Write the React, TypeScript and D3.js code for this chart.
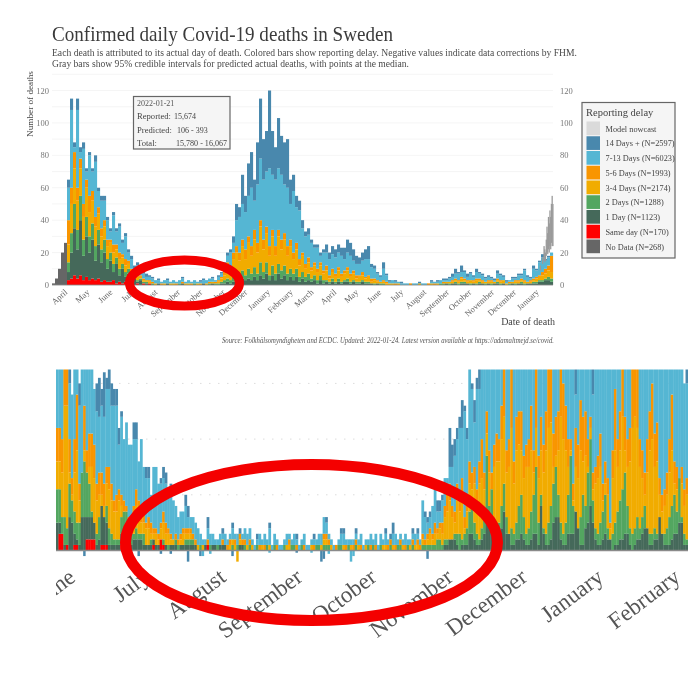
import React from "react";
import * as d3 from "d3";

// ---------- labels ----------
const legendLabels = ["Model nowcast","14 Days + (N=2597)","7-13 Days (N=6023)","5-6 Days (N=1993)","3-4 Days (N=2174)","2 Days (N=1288)","1 Day (N=1123)","Same day (N=170)","No Data (N=268)"];
const legendColors = ["#dadada","#4a88ad","#55b6d3","#f99500","#f1ac00","#52a660","#45695a","#ff0000","#666666"];
const overviewYTicks = [0,20,40,60,80,100,120];
const overviewMonths = ["2020-04-01","2020-05-01","2020-06-01","2020-07-01","2020-08-01","2020-09-01","2020-10-01","2020-11-01","2020-12-01","2021-01-01","2021-02-01","2021-03-01","2021-04-01","2021-05-01","2021-06-01","2021-07-01","2021-08-01","2021-09-01","2021-10-01","2021-11-01","2021-12-01","2022-01-01"];
const zoomMonths = ["2020-06-01","2020-07-01","2020-08-01","2020-09-01","2020-10-01","2020-11-01","2020-12-01","2021-01-01","2021-02-01"];

// ---------- overview: top edge of each stacked band, one value per 4 days ----------
const ovNoData = [1,4,10,20,26];
const ovSame = [0,0,0,0,0, 3,4,6,4,6,3,5,3,4,3,4,2,3,2,2,3,1,2,1,2,1,2,0,1,0,1,0,1];
const ovOne = [0,0,0,0,0,
 8,20,35,22,40,18,30,20,28,15,25,14,20,10,15,8,13,6,10,5,7,3,4,2,3,1,1,1,
 0,0,1,0,0,1,0,0,0,0,1,0,0,0,0,0,0,1,0,0,1,
 0,0,1,1,2,1,2,3,2,4,3,4,3,5,3,6,4,7,3,6,3,7,4,6,3,5,3,5,2,4,2,3,2,3,1,3,1,
 2,1,2,1,2,1,2,2,1,2,1,1,2,1,1,1,0,1,0,0,0,0,
 0,0,0,0,0,0,0,0,0,0,0,0,0,0,0,0,0,
 0,1,0,1,1,0,1,1,1,0,1,0,1,1,0,1,0,1,1,0,1,0,0,1,0,1,1,0,1,1,1,1,2,2,3,3,2];
const ovTwo = [0,0,0,0,0,
 14,32,50,34,55,28,42,30,38,24,34,22,28,16,20,13,17,10,13,8,10,5,6,3,4,2,2,1,
 1,0,1,0,0,1,0,0,0,1,1,0,0,0,1,0,0,1,0,1,1,
 1,1,2,3,4,3,6,7,5,9,6,10,7,11,7,14,8,14,6,12,7,13,9,12,7,10,7,10,5,8,5,7,4,6,3,6,3,
 3,2,4,2,4,2,3,4,2,3,2,2,3,2,2,1,1,1,1,1,0,0,
 0,0,0,0,0,0,0,0,0,0,0,0,0,0,0,0,1,
 1,1,1,1,2,1,2,2,1,1,1,1,2,1,1,1,1,1,2,1,1,0,1,1,1,1,2,1,1,1,2,2,3,3,4,5,4];
const ovThreeFour = [0,0,0,0,0,
 25,50,72,52,72,42,60,45,52,36,44,30,36,24,26,20,22,16,17,12,13,8,8,5,5,3,3,2,
 1,1,1,0,1,1,1,1,0,1,1,1,1,0,1,1,0,1,1,1,2,
 1,2,4,6,10,8,16,20,15,24,16,26,18,28,20,36,22,32,18,30,18,30,22,28,18,24,16,22,12,18,10,14,9,12,8,12,7,
 9,4,8,5,9,5,7,9,5,7,4,5,6,4,5,2,3,2,2,2,1,1,
 1,0,1,0,0,0,0,0,0,1,0,0,0,1,0,1,1,
 1,2,2,2,3,2,4,3,2,3,2,3,3,2,2,2,2,2,3,2,3,1,1,2,2,2,3,2,2,2,3,4,5,6,7,9,8];
const ovFiveSix = [0,0,0,0,0,
 40,60,82,60,78,50,65,55,58,42,48,35,40,28,28,25,25,20,19,16,15,10,9,6,6,4,3,3,
 2,1,1,1,1,1,1,1,1,1,2,1,1,1,1,1,1,1,1,2,2,
 2,3,5,9,14,11,20,24,20,28,22,30,24,34,26,40,28,36,24,34,24,34,28,32,24,28,20,26,16,20,13,17,11,14,10,14,9,
 12,6,10,7,11,7,9,11,7,9,6,6,8,5,6,4,4,3,2,3,2,1,
 1,1,1,0,0,0,1,0,0,1,0,0,1,1,1,1,1,
 2,2,2,3,4,3,5,4,3,3,3,4,4,3,2,3,3,2,4,3,3,1,2,2,3,3,4,3,2,3,4,5,6,8,10,12,18];
const ovSevenThirteen = [0,0,0,0,0,
 60,108,85,108,82,84,70,80,70,76,58,52,52,40,33,43,33,36,26,30,20,16,10,12,8,7,5,5,
 4,3,3,2,3,3,2,3,2,3,4,2,3,2,3,2,2,3,3,4,4,
 3,5,7,13,18,20,26,40,42,50,45,55,60,52,62,78,65,70,72,68,65,72,68,62,60,50,58,48,46,35,30,31,26,23,23,18,20,
 20,16,19,17,20,18,16,20,18,15,13,13,15,16,16,11,10,7,5,10,6,2,
 3,2,2,1,1,1,1,1,1,1,1,1,1,2,2,2,3,
 3,3,4,5,7,7,8,8,5,7,5,8,7,6,4,5,4,3,7,6,5,2,3,4,4,6,6,9,5,4,10,9,14,17,15,17,20];
const ovTotal = [0,0,0,0,0,
 65,115,88,115,85,88,72,82,72,80,60,55,55,42,35,45,35,38,28,32,22,18,12,14,10,8,7,6,
 5,3,4,2,3,4,2,3,2,3,5,2,3,2,3,2,3,4,3,4,5,
 3,6,8,14,20,22,30,50,48,68,55,75,82,65,88,115,90,95,120,95,85,103,92,88,90,65,68,55,52,40,33,35,28,25,25,20,22,
 25,20,24,22,25,23,23,28,26,22,18,17,20,22,24,13,12,8,6,14,7,3,
 3,3,2,2,1,1,1,1,1,2,1,1,1,3,2,3,3,
 4,4,5,7,10,8,12,9,7,8,6,10,8,7,5,6,5,4,9,7,6,3,3,5,5,7,7,10,6,5,12,10,15,19,16,18,20];

// nowcast intervals, last days of the series
const nowcastDates = ["2022-01-04","2022-01-07","2022-01-09","2022-01-10","2022-01-11","2022-01-12","2022-01-13","2022-01-14","2022-01-15","2022-01-16","2022-01-17","2022-01-18","2022-01-19","2022-01-20","2022-01-21"];
const nowcastLow = [9,13,15,14,15,18,20,19,22,20,24,22,26,24,24];
const nowcastHigh = [12,17,24,22,20,28,36,32,42,38,46,42,50,55,50];

// ---------- zoom panel: top edge of each stacked band, one value per day ----------
const zmSame = [0,3,3,0,1,0,0,1,1,0, 0,0,2,2,2,2,0,0,1,1, 1,0,0,0,0,0,1,1,0,0, 0,0,0,0,0,0,0,0,0,1, 0,0,2,1,0,0,0,0,0,0, 0,0,0,0,0,0,0,0,0,0, 0,1];
const zmOne = [5,5,2,1,1,6,5,3,2,1, 6,6,6,6,6,5,1,2,8,6, 5,1,1,1,1,1,3,4,3,2, 1,2,2,2,2,1,1,1,1,2, 1,1,0,1,1,0,1,1,1,0, 1,1,1,1,1,1,1,0,0,0,
 1,0,0,1,1,0,1,1,1,0, 0,0,0,0,1,1,0,0,0,0, 0,0,0,0,0,0,0,0,0,0, 0,0,0,0,0,0,0,0,0,0, 0,0,0,0,0,0,0,0,0,0, 0,0,0,0,0,0,0,0,0,0,
 0,0,0,0,0,0,0,0,0,0, 0,0,0,0,0,0,0,0,0,0, 0,0,0,0,0,0,0,0,0,0, 0,0,0,0,0,0,
 0,1,1,2,2,2,1,0,1,1, 1,3,3,2,1,1,2,3,5,5, 4,2,1,2,4,7,3,3,1,1, 2,2,3,2,1,1,2,3,3,1, 8,3,1,1,2,5,6,6,2,1, 1,3,3,3,7,4,1,1,4,5, 8,5,2,1,1,2,3,2,2,0, 1,1,2,2,3,3,1,0,1,2, 2,3,4,4,1,1,2,2,6,3, 1,1,1,2,3,3,5,5,1,1];
const zmTwo = [11,11,6,6,4,12,9,7,5,5, 14,16,14,12,7,5,3,6,8,5, 8,4,3,2,2,2,6,7,7,4, 3,3,4,3,3,3,1,1,2,2, 1,1,2,2,1,1,1,1,2,1, 1,1,2,2,2,2,1,0,1,0,
 1,1,1,0,0,1,1,0,0,0, 0,1,0,1,0,1,1,0,1, 0,0,1,0,0,0,1,0,0,1, 0,0,0,1,0,0,1,1,0,0, 1,0,0,0,0,0,1,1,0,1, 1,1,0,0,0,1,1,0,0,1, 0,0,1,0,0,0,0,1,0,1, 0,0,1,0,0,0,1,0,0,1, 1,0,0,1,0,1,0,0,0,1, 1,1,1,1,1,2,2,
 1,2,2,2,2,3,3,3,2,3, 4,7,8,5,3,2,4,6,17,8, 11,5,3,5,8,12,6,3,4,3, 5,8,10,6,3,4,7,10,15,5, 10,4,3,5,8,12,15,10,5,3, 5,10,17,8,3,3,6,10,8,14, 20,9,4,3,5,7,10,4,2,3, 5,7,9,11,14,8,4,3,4,6, 4,6,8,4,3,3,4,3,5,3, 3,4,6,8,10,7,13,6,3,2];
const zmThreeFour = [16,16,14,26,26,14,10,14,18,9, 7,18,14,15,15,13,9,10,10,8, 12,11,9,7,7,9,8,7,6,5, 4,6,8,7,5,5,4,4,3,3, 3,2,4,5,3,3,2,2,2,1, 2,3,3,3,3,2,1,1,1,1,
 1,1,1,1,0,1,1,1,1,0, 1,2,1,1,2,1,1,1,1, 1,0,1,0,1,0,1,1,0,1, 0,0,0,1,1,1,1,1,0,0, 1,0,0,0,1,0,1,1,1,2, 2,1,1,0,0,1,1,1,0,1, 1,0,1,1,0,0,1,1,0,1, 0,0,1,1,1,0,1,1,0,1, 1,1,0,1,1,1,1,1,0,2, 1,2,3,2,3,3,4,
 3,6,7,9,6,5,9,7,10,4, 7,12,11,12,8,12,13,11,21,14, 11,15,16,16,20,24,14,15,22,12, 18,19,18,13,15,15,18,14,22,13, 18,14,18,22,23,15,17,18,24,20, 18,15,18,9,15,13,18,16,17,15, 22,11,12,13,15,9,12,10,4,13, 18,15,18,24,18,15,16,22,24,22, 15,13,10,14,18,20,15,16,10,7, 8,10,14,18,12,11,13,12,8,10];
const zmFiveSix = [22,22,20,33,33,20,13,20,28,12, 9,26,18,21,21,19,12,14,14,12, 15,15,12,9,10,11,10,9,8,6, 5,8,11,9,6,7,5,6,5,4, 4,3,5,7,5,4,3,2,3,2, 3,4,4,4,4,3,2,1,1,1,
 1,2,1,1,1,1,1,2,1,1, 2,2,2,1,3,2,2,1,2, 1,0,1,1,1,1,1,1,0,1, 1,0,0,1,1,2,1,1,1,0, 1,1,0,0,1,1,1,1,1,3, 3,2,1,0,1,1,1,1,1,1, 1,1,2,1,1,0,1,1,1,1, 1,0,1,1,1,1,2,1,1,1, 2,1,1,1,1,2,1,2,1,3, 2,3,4,3,5,4,5,
 5,8,10,12,8,7,12,10,13,6, 9,16,14,15,11,16,20,14,25,18, 14,19,21,20,26,34,18,20,34,16, 24,25,25,17,19,20,26,18,34,17, 24,19,25,34,34,21,24,25,34,30, 26,20,20,12,22,19,27,24,25,20, 24,14,15,17,21,12,16,13,5,18, 29,20,25,34,24,20,22,34,34,34, 20,18,14,20,25,30,21,23,13,10, 11,14,20,28,16,15,13,15,11,13];
const zmSevenThirteen = [40,40,40,40,40,30,28,40,40,26, 40,40,40,40,40,29,25,24,26,24, 29,29,26,26,26,19,24,20,23,19, 19,20,20,16,20,15,13,13,10,15, 15,12,12,13,12,11,10,9,8,6, 7,7,8,6,6,6,5,4,3,2,
 2,4,3,3,2,2,3,3,3,2, 3,4,3,3,3,3,4,3,4, 2,1,2,3,2,3,2,4,1,3, 2,1,1,2,3,3,2,3,2,1, 2,3,1,1,2,2,2,3,3,6, 5,3,2,1,1,2,3,3,2,2, 2,2,3,2,3,1,2,2,3,2, 3,1,3,2,3,2,2,3,3,2, 3,2,3,2,2,3,3,3,2,9, 6,5,6,8,11,7,7,
 9,13,13,15,15,17,20,22,22,25, 20,36,29,23,29,29,33,34,40,40,
 40,40,40,40,40,40,40,40,40,40, 40,40,40,40,40,40,40,40,40,40, 40,40,40,40,40,40,40,40,40,40, 40,40,40,40,28,40,40,40,40,40, 40,28,40,40,40,40,40,40,40,40, 40,40,40,40,40,40,40,40,40,40, 40,40,40,40,40,40,40,40,40,40, 40,40,40,40,40,40,40,40,30,30];
const zmTotal = [40,40,40,40,40,40,28,40,40,30, 40,40,40,40,40,29,30,31,29,32, 31,33,30,29,29,22,25,20,23,19, 19,23,23,16,20,15,15,15,10,15, 15,12,13,15,14,11,12,9,8,6, 7,7,10,8,6,6,5,4,3,2,
 2,6,3,3,2,2,3,4,3,2, 3,5,3,3,4,3,4,3,4, 2,1,3,3,2,3,2,5,1,3, 2,1,1,2,3,3,2,3,3,1, 2,3,1,1,2,3,2,3,3,6, 6,3,2,1,1,2,4,4,2,2, 2,2,4,2,3,1,2,2,3,2, 3,1,3,2,4,2,3,5,3,2, 3,2,3,2,2,4,3,4,2,9, 7,6,7,8,11,9,9,
 10,13,13,22,19,20,22,24,27,26, 22,40,30,27,31,40,40,40,40,40,
 40,40,40,40,40,40,40,40,40,40, 40,40,40,40,40,40,40,40,40,40, 40,40,40,40,40,40,40,40,40,40, 40,40,40,40,40,40,40,40,40,40, 40,40,40,40,40,40,40,40,40,40, 40,40,40,40,40,40,40,40,40,40, 40,40,40,40,40,40,40,40,40,40, 40,40,40,40,40,40,40,40,30,40];
// downward data corrections in the zoom panel
const zmNegDays = [11,33,42,46,53,58,59,62,71,73,86,97,103,107,108,110,119,120,150];
const zmNegVals = [-1,-1,-0.6,-0.6,-2,-1,-1,-0.6,-1,-2,-0.4,-0.4,-0.4,-2,-1.5,-0.6,-2,-1,-1.5];
const zmNegColors = ["#4a88ad","#4a88ad","#4a88ad","#4a88ad","#4a88ad","#4a88ad","#55b6d3","#55b6d3","#4a88ad","#f1ac00","#55b6d3","#4a88ad","#55b6d3","#4a88ad","#4a88ad","#55b6d3","#55b6d3","#55b6d3","#4a88ad"];

const FONT = "'Liberation Serif', serif";
const date = d3.utcParse("%Y-%m-%d");
const monthName = d3.utcFormat("%B");

// colours for bands from bottom to top
const bandColors = ["#666666","#ff0000","#45695a","#52a660","#f1ac00","#f99500","#55b6d3","#4a88ad"];

function Bars({ layers, count, x, y, gap }: any) {
  const rects: any[] = [];
  for (let i = 0; i < count; i++) {
    let prev = 0;
    layers.forEach((arr: number[], k: number) => {
      const edge = Math.max(prev, arr[i] ?? 0);
      if (edge > prev) {
        rects.push(<rect key={i + "-" + k} x={x(i)} width={x.bandwidth() + gap} y={y(edge)} height={y(prev) - y(edge)} fill={bandColors[k]} />);
      }
      prev = edge;
    });
  }
  return <g>{rects}</g>;
}

export default function App() {
  // overview scales
  const ovCount = ovTotal.length;
  const ovX = d3.scaleBand<number>().domain(d3.range(ovCount)).range([52, 553]).paddingInner(0);
  const ovY = d3.scaleLinear().domain([0, 120]).range([285, 90.5]);
  const ovTime = d3.scaleUtc().domain([date("2020-03-13")!, date("2022-01-22")!]).range([52, 553]);
  const ovLayers = [ovNoData, ovSame, ovOne, ovTwo, ovThreeFour, ovFiveSix, ovSevenThirteen, ovTotal];

  // zoom scales
  const zmCount = zmTotal.length;
  const zmX = d3.scaleBand<number>().domain(d3.range(zmCount)).range([56, 688]);
  const zmY = d3.scaleLinear().domain([0, 10]).range([550.5, 494.8]);
  const zmTime = d3.scaleUtc().domain([date("2020-05-24")!, date("2021-02-04")!]).range([56, 688]);
  const zmLayers = [[], zmSame, zmOne, zmTwo, zmThreeFour, zmFiveSix, zmSevenThirteen, zmTotal];

  const txt = "#4a4a4a";
  return (
    <svg width={700} height={687} viewBox="0 0 700 687" style={{ position: "absolute", left: 0, top: 0, display: "block", background: "#fff" }} fontFamily={FONT}>
      <defs>
        <filter id="soft" x="-5%" y="-5%" width="110%" height="110%"><feGaussianBlur stdDeviation="0.45" /></filter>
        <filter id="softText" x="-5%" y="-5%" width="110%" height="110%"><feGaussianBlur stdDeviation="0.25" /></filter>
        <clipPath id="zmClip"><rect x={56} y={369.5} width={632} height={230} /></clipPath>
      </defs>

      {/* headings */}
      <g filter="url(#softText)">
        <text x={52} y={41} fontSize={21} fill="#3a3a3a" textLength={341} lengthAdjust="spacingAndGlyphs">Confirmed daily Covid-19 deaths in Sweden</text>
        <text x={52} y={56} fontSize={10.5} fill={txt} textLength={525} lengthAdjust="spacingAndGlyphs">Each death is attributed to its actual day of death. Colored bars show reporting delay. Negative values indicate data corrections by FHM.</text>
        <text x={52} y={67} fontSize={10.5} fill={txt} textLength={357} lengthAdjust="spacingAndGlyphs">Gray bars show 95% credible intervals for predicted actual deaths, with points at the median.</text>
      </g>

      {/* overview grid */}
      <g stroke="#f2f2f2" strokeWidth={0.8}>
        {d3.range(0, 131, 10).map((v) => <line key={v} x1={52} x2={553} y1={ovY(v)} y2={ovY(v)} />)}
      </g>

      {/* overview bars */}
      <g filter="url(#soft)">
        <Bars layers={ovLayers} count={ovCount} x={ovX} y={ovY} gap={0.1} />
        {nowcastDates.map((d, i) => (
          <rect key={d} x={ovTime(date(d)!)} width={1.3} y={ovY(nowcastHigh[i])} height={ovY(nowcastLow[i]) - ovY(nowcastHigh[i])} fill="#9a9a9a" />
        ))}
        <line x1={52} x2={553} y1={285} y2={285} stroke="#888" strokeWidth={0.8} />
      </g>

      {/* overview axes */}
      <g filter="url(#softText)" fontSize={8.5} fill="#777">
        {overviewYTicks.map((v) => (
          <g key={v}>
            <text x={49} y={ovY(v) + 3} textAnchor="end">{v}</text>
            <text x={560} y={ovY(v) + 3}>{v}</text>
          </g>
        ))}
        {overviewMonths.map((m) => {
          const px = ovTime(date(m)!);
          return <text key={m} transform={`translate(${px + 2},${293}) rotate(-42)`} textAnchor="end" fontSize={8.5} fill="#666">{monthName(date(m)!)}</text>;
        })}
        <text transform="translate(33,104) rotate(-90)" textAnchor="middle" fontSize={9.2} fill="#444">Number of deaths</text>
        <text x={555} y={325} textAnchor="end" fontSize={10} fill="#444">Date of death</text>
        <text x={554} y={343} textAnchor="end" fontSize={7.5} fontStyle="italic" fill="#555" textLength={332} lengthAdjust="spacingAndGlyphs">Source: Folkhälsomyndigheten and ECDC. Updated: 2022-01-24. Latest version available at https://adamaltmejd.se/covid.</text>
      </g>

      {/* annotation box */}
      <g filter="url(#softText)">
        <rect x={133.5} y={96.5} width={96.5} height={52.5} fill="#f5f5f5" stroke="#666" strokeWidth={1.2} />
        <text x={137} y={105.5} fontSize={8} fill="#555">2022-01-21</text>
        <text x={137} y={119} fontSize={8.6} fill="#444">Reported:</text>
        <text x={174} y={119} fontSize={8} fill="#444">15,674</text>
        <text x={137} y={132.5} fontSize={8.6} fill="#444">Predicted:</text>
        <text x={177} y={132.5} fontSize={8} fill="#444">106 - 393</text>
        <text x={137} y={146} fontSize={8.6} fill="#444">Total:</text>
        <text x={176} y={146} fontSize={8} fill="#444" textLength={51} lengthAdjust="spacingAndGlyphs">15,780 - 16,067</text>
      </g>

      {/* legend */}
      <g filter="url(#softText)">
        <rect x={582} y={102.5} width={93} height={155.5} fill="#f5f5f5" stroke="#666" strokeWidth={1.2} />
        <text x={586} y={116} fontSize={10.5} fill="#444">Reporting delay</text>
        {legendLabels.map((l, i) => (
          <g key={l}>
            <rect x={586.5} y={121.5 + i * 14.75} width={13.5} height={13.7} fill={legendColors[i]} />
            <text x={605.5} y={131.5 + i * 14.75} fontSize={8.3} fill="#444">{l}</text>
          </g>
        ))}
      </g>

      {/* zoom panel grid */}
      <g stroke="#dcdcdc" strokeWidth={1} strokeDasharray="1.5 7.5">
        {[10, 20, 30].map((v) => <line key={v} x1={56} x2={688} y1={zmY(v)} y2={zmY(v)} />)}
      </g>

      {/* zoom panel bars */}
      <g clipPath="url(#zmClip)" filter="url(#softText)">
        <Bars layers={zmLayers} count={zmCount} x={zmX} y={zmY} gap={0.3} />
        {zmNegDays.map((d, i) => (
          <rect key={d} x={zmX(d)} width={zmX.bandwidth()} y={zmY(0)} height={zmY(zmNegVals[i]) - zmY(0)} fill={zmNegColors[i]} />
        ))}
        <line x1={56} x2={688} y1={zmY(0)} y2={zmY(0)} stroke="#8a8a8a" strokeWidth={1.5} />
      </g>

      {/* zoom panel month labels */}
      <g filter="url(#softText)">
        {zoomMonths.map((m) => (
          <text key={m} transform={`translate(${zmTime(date(m)!) + 1},${580}) rotate(-37)`} textAnchor="end" fontSize={23} fill="#555">{monthName(date(m)!)}</text>
        ))}
      </g>
      <rect x={0} y={560} width={56} height={60} fill="#fff" />

      {/* red highlight ellipses */}
      <ellipse cx={184.5} cy={283} rx={55} ry={23} fill="none" stroke="#f40000" strokeWidth={9} />
      <ellipse cx={311.5} cy={542.5} rx={186} ry={78} fill="none" stroke="#f40000" strokeWidth={11} />
    </svg>
  );
}
